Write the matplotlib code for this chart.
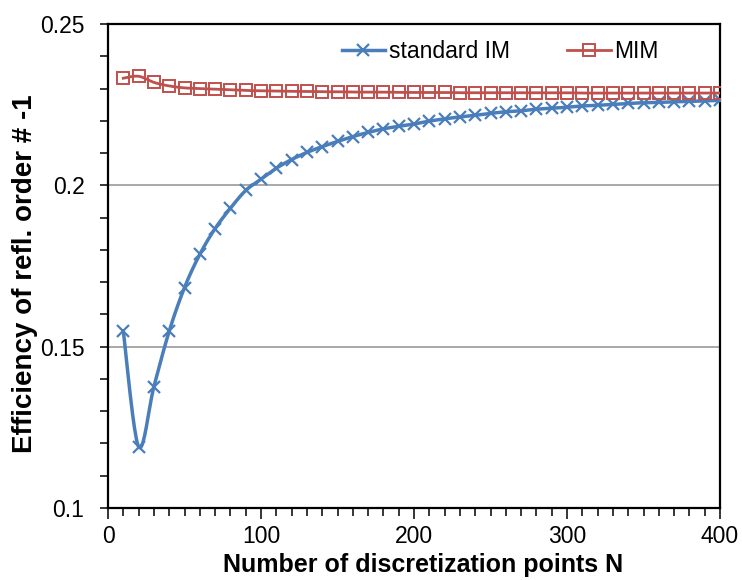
import numpy as np
import matplotlib
matplotlib.use("Agg")
import matplotlib.pyplot as plt
from matplotlib.ticker import MultipleLocator

plt.rcParams['font.family'] = ['Liberation Sans', 'DejaVu Sans']

N = [10, 20, 30, 40, 50, 60, 70, 80, 90, 100,
     110, 120, 130, 140, 150, 160, 170, 180, 190, 200,
     210, 220, 230, 240, 250, 260, 270, 280, 290, 300,
     310, 320, 330, 340, 350, 360, 370, 380, 390, 400]

standard_im = [0.1548, 0.1190, 0.1376, 0.1548, 0.1683, 0.1786, 0.1866, 0.1929, 0.1984, 0.2019,
               0.2053, 0.2080, 0.2102, 0.2120, 0.2136, 0.2151, 0.2164, 0.2175, 0.2183, 0.2190,
               0.2199, 0.2206, 0.2212, 0.2217, 0.2223, 0.2228, 0.2231, 0.2236, 0.2239, 0.2242,
               0.2246, 0.2248, 0.2251, 0.2254, 0.2256, 0.2257, 0.2259, 0.2260, 0.2262, 0.2263]

mim = [0.2332, 0.2338, 0.2319, 0.2308, 0.2302, 0.2300, 0.2298, 0.2296, 0.2294, 0.2293,
       0.2292, 0.2291, 0.2291, 0.2290, 0.2290, 0.2289, 0.2289, 0.2289, 0.2288, 0.2288,
       0.2288, 0.2288, 0.2287, 0.2287, 0.2287, 0.2287, 0.2287, 0.2287, 0.2287, 0.2287,
       0.2286, 0.2286, 0.2286, 0.2286, 0.2286, 0.2286, 0.2286, 0.2286, 0.2286, 0.2286]

labels = ["standard IM", "MIM"]
x_label = "Number of discretization points N"
y_label = "Efficiency of refl. order # -1"

BLUE = "#4A7EBB"
RED = "#C0504D"


def smooth(x, y, steps=20):
    """Excel-like smoothed curve (Catmull-Rom style Bezier) through points."""
    x = np.asarray(x, float)
    y = np.asarray(y, float)
    P = np.column_stack([x, y])
    out = []
    n = len(P)
    for i in range(n - 1):
        p0 = P[i - 1] if i > 0 else P[i]
        p1 = P[i]
        p2 = P[i + 1]
        p3 = P[i + 2] if i + 2 < n else P[i + 1]
        c1 = p1 + (p2 - p0) / 6.0
        c2 = p2 - (p3 - p1) / 6.0
        t = np.linspace(0, 1, steps, endpoint=(i == n - 2))[:, None]
        seg = ((1 - t) ** 3) * p1 + 3 * ((1 - t) ** 2) * t * c1 + 3 * (1 - t) * t ** 2 * c2 + t ** 3 * p2
        out.append(seg)
    out = np.vstack(out)
    return out[:, 0], out[:, 1]


fig = plt.figure(figsize=(7.42, 5.8), dpi=100)
ax = fig.add_axes([108 / 742, 1 - 508 / 580, (720 - 108) / 742, (508 - 24) / 580])

sx, sy = smooth(N, standard_im)
ax.plot(sx, sy, color=BLUE, lw=2.5, zorder=3, solid_capstyle='round')
ax.plot(N, standard_im, ls='none', marker='x', ms=9, mew=1.6, color=BLUE, zorder=4)

mx, my = smooth(N, mim)
ax.plot(mx, my, color=RED, lw=2.0, zorder=3)
ax.plot(N, mim, ls='none', marker='s', ms=8.5, mew=1.4, mfc='none', mec=RED, zorder=4)

ax.set_xlim(0, 400)
ax.set_ylim(0.1, 0.25)
ax.xaxis.set_major_locator(MultipleLocator(100))
ax.xaxis.set_minor_locator(MultipleLocator(10))
ax.yaxis.set_minor_locator(MultipleLocator(0.01))
ax.set_yticks([0.1, 0.15, 0.2, 0.25])
ax.set_yticklabels(["0.1", "0.15", "0.2", "0.25"])

ax.tick_params(which='both', direction='out', length=6, width=1.1, color='black')
ax.tick_params(axis='x', which='major', length=8, labelsize=16.5, pad=4)
ax.tick_params(axis='y', which='major', labelsize=16.5, pad=11)

for v in [0.15, 0.2]:
    ax.axhline(v, color='#9A9A9A', lw=1.2, zorder=1)

for s in ax.spines.values():
    s.set_linewidth(1.6)
    s.set_color('black')

ax.set_xlabel(x_label, fontsize=18, fontweight='bold')
ax.set_ylabel(y_label, fontsize=20, fontweight='bold')
ax.xaxis.set_label_coords(0.5147, -0.092)
ax.yaxis.set_label_coords(-0.114, 0.4835)

h1 = plt.Line2D([], [], color=BLUE, lw=2.5, marker='x', ms=9, mew=1.6)
h2 = plt.Line2D([], [], color=RED, lw=2.0, marker='s', ms=8, mew=1.4, mfc='none', mec=RED)
fig.legend([h1, h2], labels, loc='center', bbox_to_anchor=(500 / 742, 1 - 52 / 580),
           ncol=2, frameon=False, fontsize=16.5, handlelength=1.9, handletextpad=0.15,
           columnspacing=2.5)

fig.savefig("out.png", dpi=100)
